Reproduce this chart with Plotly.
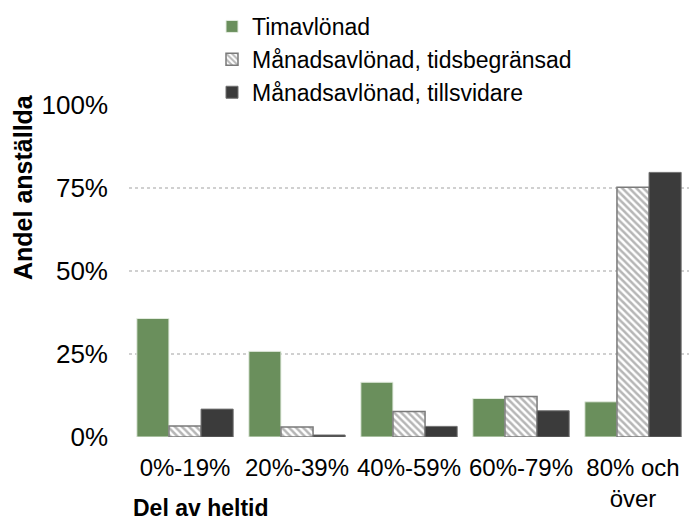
import plotly.graph_objects as go

categories = ["0%-19%", "20%-39%", "40%-59%", "60%-79%", "80% och<br>över"]
timavlonad = [35.7, 25.8, 16.5, 11.6, 10.6]
tidsbegransad = [3.3, 3.0, 7.7, 12.2, 75.2]
tillsvidare = [8.4, 0.6, 3.2, 7.9, 79.7]
yticks = [0, 25, 50, 75, 100]

FONT = "Arial, Liberation Sans, sans-serif"

fig = go.Figure()
fig.add_trace(go.Bar(
    name="Timavlönad", x=categories, y=timavlonad,
    marker=dict(color="#6a8f5c", line=dict(color="#e4ece0", width=1)),
))
fig.add_trace(go.Bar(
    name="Månadsavlönad, tidsbegränsad", x=categories, y=tidsbegransad,
    marker=dict(color="white", line=dict(color="#7a7a7a", width=1.5),
                pattern=dict(shape="\\", fgcolor="#6e6e6e", bgcolor="white",
                             size=5, solidity=0.5)),
))
fig.add_trace(go.Bar(
    name="Månadsavlönad, tillsvidare", x=categories, y=tillsvidare,
    marker=dict(color="#3b3b3b", line=dict(color="#707070", width=1)),
))

fig.update_layout(
    width=689, height=521,
    margin=dict(l=129, r=0, t=105, b=84, autoexpand=False),
    paper_bgcolor="white", plot_bgcolor="white",
    font=dict(family=FONT, color="#000000"),
    barmode="group", bargap=0.14, bargroupgap=0,
    showlegend=True,
    legend=dict(
        xref="container", yref="container",
        x=212 / 689, y=1 - 5 / 521, xanchor="left", yanchor="top",
        font=dict(size=23, family=FONT, color="#000"),
        bgcolor="rgba(0,0,0,0)", itemwidth=30, tracegroupgap=0,
    ),
    xaxis=dict(
        type="category", showgrid=False, zeroline=False, showline=False,
        tickfont=dict(size=24, family=FONT, color="#000"),
        ticks="", ticklabelstandoff=14, automargin=False,
    ),
    yaxis=dict(
        range=[0, 100], tickvals=yticks, ticktext=[f"{v}%" for v in yticks],
        showgrid=True, gridcolor="#d0d0d0", gridwidth=2, griddash="dot",
        zeroline=False, showline=False,
        tickfont=dict(size=26, family=FONT, color="#000"),
        ticks="", ticklabelstandoff=20, automargin=False,
    ),
    annotations=[
        dict(text="<b>Andel anställda</b>", textangle=-90,
             xref="paper", yref="paper", x=(23 - 129) / 560, y=(437 - 187) / 332,
             xanchor="center", yanchor="middle", showarrow=False,
             font=dict(size=25, family=FONT, color="#000")),
        dict(text="<b>Del av heltid</b>",
             xref="paper", yref="paper", x=(131 - 129) / 560, y=(437 - 508) / 332,
             xanchor="left", yanchor="middle", showarrow=False,
             font=dict(size=23, family=FONT, color="#000")),
    ],
)

fig.write_html("out.html", config={"displayModeBar": False},
               post_script="document.body.style.margin='0';")
